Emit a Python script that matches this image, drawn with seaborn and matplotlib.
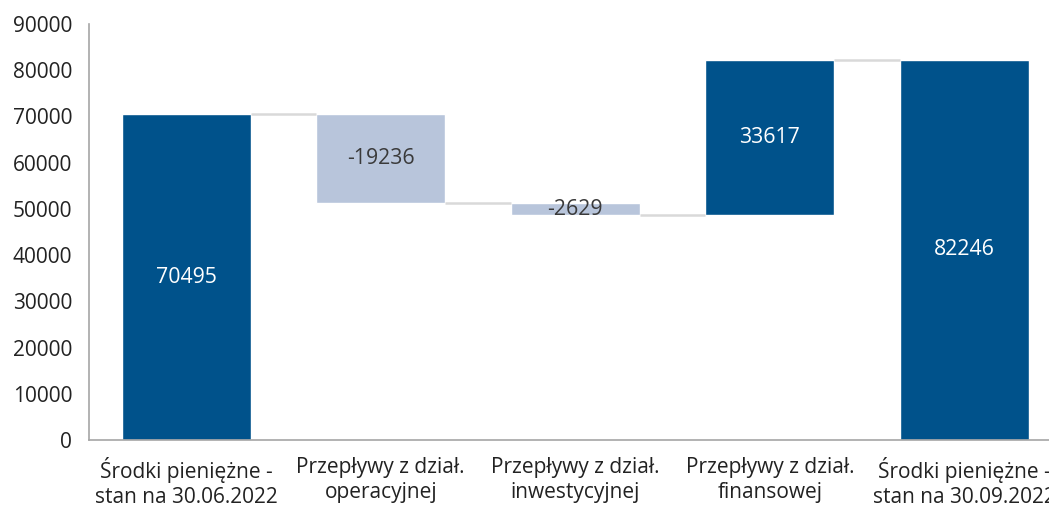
import matplotlib
matplotlib.use("Agg")
import matplotlib.pyplot as plt
import seaborn as sns
import numpy as np

categories = [
    "Środki pieniężne -\nstan na 30.06.2022",
    "Przepływy z dział.\noperacyjnej",
    "Przepływy z dział.\ninwestycyjnej",
    "Przepływy z dział.\nfinansowej",
    "Środki pieniężne -\nstan na 30.09.2022",
]
values = [70495, -19236, -2629, 33617, 82246]
is_total = [True, False, False, False, True]

dark = "#00528B"
light = "#B8C5DB"

# waterfall geometry
bottoms, heights, levels = [], [], []
running = 0
for v, tot in zip(values, is_total):
    if tot:
        bottoms.append(0)
        heights.append(v)
        running = v
    else:
        start = running
        running = running + v
        bottoms.append(min(start, running))
        heights.append(abs(v))
    levels.append(running)
colors = [dark if (tot or v > 0) else light for v, tot in zip(values, is_total)]

sns.set_style("white")
plt.rcParams["font.family"] = ["Open Sans", "DejaVu Sans"]

fig = plt.figure(figsize=(10.49, 5.15), dpi=100)
ax = fig.add_axes([89 / 1049, 75 / 515, 972.5 / 1049, 416 / 515])

w = 0.663
sns.barplot(x=categories, y=heights, hue=categories, palette=colors,
            legend=False, saturation=1, width=w, ax=ax)
for p, b in zip(ax.patches, bottoms):
    p.set_y(b)

# connector lines
for i in range(len(values) - 1):
    ax.plot([i + w / 2, i + 1 - w / 2], [levels[i], levels[i]],
            color="#D9D9D9", lw=1.8, solid_capstyle="butt")

# value labels
for i, (v, b, h, c) in enumerate(zip(values, bottoms, heights, colors)):
    txt_color = "white" if c == dark else "#3A3A3A"
    ax.text(i, b + h / 2, str(v), ha="center", va="center",
            color=txt_color, fontsize=15.3)

ax.set_xlim(-0.5, 4.5)
ax.set_ylim(0, 90000)
ax.set_yticks(np.arange(0, 90001, 10000))
ax.tick_params(axis="y", length=0, pad=12, labelsize=15, labelcolor="#222222")
ax.tick_params(axis="x", length=0, pad=12, labelsize=15, labelcolor="#222222")
for lab in ax.get_xticklabels():
    lab.set_linespacing(1.3)
ax.set_xlabel("")
ax.set_ylabel("")

for s in ["top", "right"]:
    ax.spines[s].set_visible(False)
for s in ["left", "bottom"]:
    ax.spines[s].set_color("#A6A6A6")
    ax.spines[s].set_linewidth(1.2)

fig.savefig("out.png", dpi=100)
